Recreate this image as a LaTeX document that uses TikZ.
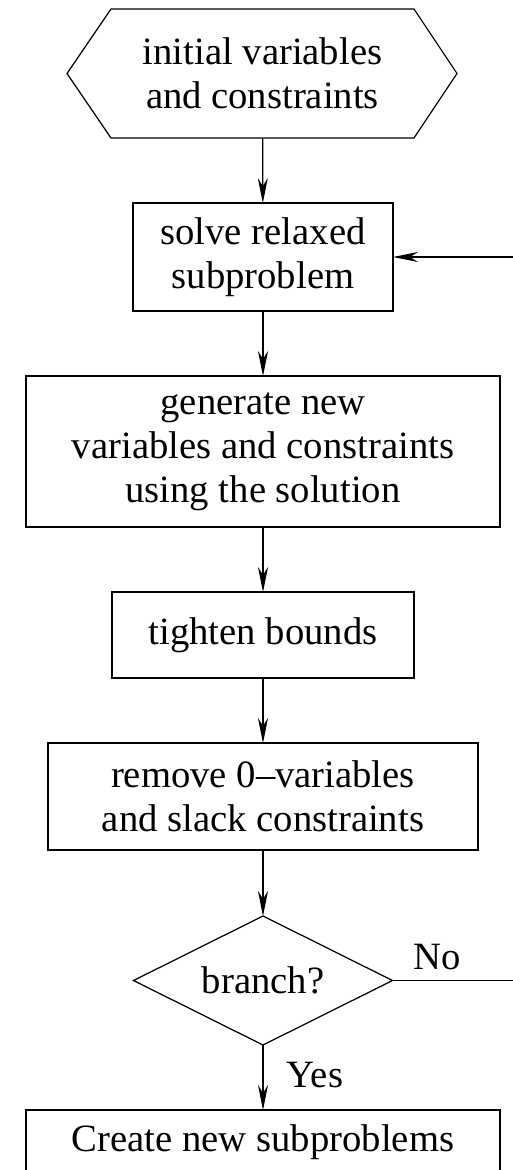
\documentclass[tikz,border=0pt]{standalone}
\usepackage{fontspec}
\setmainfont{Liberation Serif}
\usetikzlibrary{arrows.meta,shapes.geometric}
\tikzset{
	box/.style={draw,line width=0.7pt,align=center,inner sep=0pt,outer sep=0pt},
	decision/.style={draw,line width=0.7pt,diamond,aspect=2,inner sep=0pt,outer sep=0pt,minimum width=5.18cm,minimum height=2.58cm},
	flow/.style={line width=0.7pt,-{Stealth[length=5mm,width=2mm,inset=1.6mm]}}
}
\begin{document}
\begin{tikzpicture}[font=\fontsize{22}{25}\selectfont]
		\useasboundingbox (0,0) rectangle (10.26,-23.4);
		\node[align=center,inner sep=0pt,outer sep=0pt,minimum width=6.06cm,minimum height=2.58cm] (init) at (5.25,-1.47) {initial variables\\and constraints};
		\draw[line width=0.7pt] (init.north west)--(init.north east)--([xshift=0.86cm]init.east)--(init.south east)--(init.south west)--([xshift=-0.88cm]init.west)--cycle;
		\node[box,minimum width=5.2cm,minimum height=2.16cm] (solve) at (5.26,-5.14) {solve relaxed\\subproblem};
		\node[box,minimum width=9.48cm,minimum height=3.02cm] (generate) at (5.26,-9.03) {generate new\\variables and constraints\\using the solution};
		\node[box,minimum width=6.04cm,minimum height=1.72cm] (tighten) at (5.26,-12.7) {tighten bounds};
		\node[box,minimum width=8.6cm,minimum height=2.14cm] (remove) at (5.26,-15.93) {remove 0--variables\\and slack constraints};
		\node[decision] (branch) at (5.26,-19.61) {branch?};
		\node[box,anchor=north,minimum width=9.48cm,minimum height=1.3cm] (create) at (5.26,-22.2) {Create new subproblems};
		\node (no) at (8.74,-19.14) {No};
		\node (yes) at (6.3,-21.5) {Yes};
		\coordinate (noend) at (10.26,-19.61);
		\coordinate (back) at (10.26,-5.14);
		\draw[flow] (init)--(solve);
		\draw[flow] (solve)--(generate);
		\draw[flow] (generate)--(tighten);
		\draw[flow] (tighten)--(remove);
		\draw[flow] (remove)--(branch);
		\draw[flow] (branch)--(create);
		\draw[line width=0.7pt] (branch.east)--(noend);
		\draw[flow] (back)--(solve.east);
	\end{tikzpicture}
\end{document}
